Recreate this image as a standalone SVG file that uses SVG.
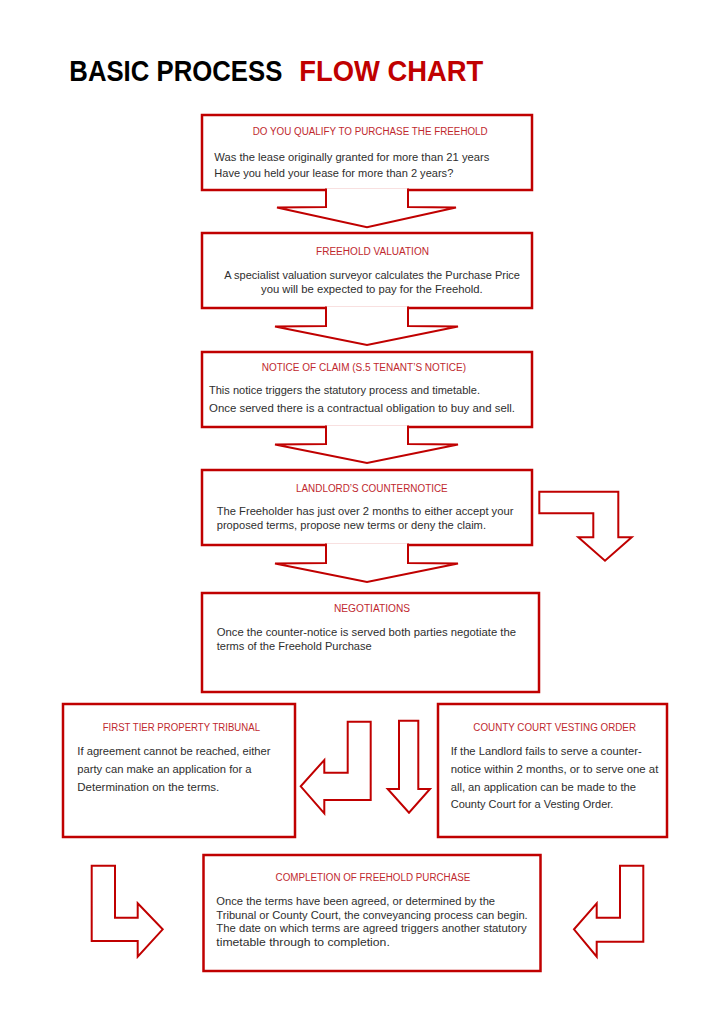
<svg xmlns="http://www.w3.org/2000/svg" width="724" height="1024" viewBox="0 0 724 1024">
<style>
.box{fill:#fff;stroke:#c00000;stroke-width:2.5}
.arr{fill:#fff;stroke:#c00000;stroke-width:2;stroke-linejoin:miter}
.hd{font-family:"Liberation Sans",Arial,sans-serif;font-size:10px;fill:#c0282e}
.tx{font-family:"Liberation Sans",Arial,sans-serif;font-size:11.2px;fill:#2e2e2e}
.big{font-family:"Liberation Sans",Arial,sans-serif;font-size:29px;font-weight:bold}
</style>
<rect width="724" height="1024" fill="#fff"/>
<g id="title">
<text class="big" x="69.3" y="80.7" fill="#000" textLength="213" lengthAdjust="spacingAndGlyphs">BASIC PROCESS</text>
<text class="big" x="299.3" y="80.7" fill="#c00000" textLength="184" lengthAdjust="spacingAndGlyphs">FLOW CHART</text>
</g>
<g id="qualify">
<rect class="box" x="202" y="115" width="330" height="75"/>
<text class="hd" x="252.7" y="135" textLength="235" lengthAdjust="spacingAndGlyphs">DO YOU QUALIFY TO PURCHASE THE FREEHOLD</text>
<text class="tx" x="214.3" y="161" textLength="275" lengthAdjust="spacingAndGlyphs">Was the lease originally granted for more than 21 years</text>
<text class="tx" x="214.3" y="177.3" textLength="239" lengthAdjust="spacingAndGlyphs">Have you held your lease for more than 2 years?</text>
</g>
<g id="valuation">
<rect class="box" x="202" y="233" width="330" height="75"/>
<text class="hd" x="316" y="255" textLength="113" lengthAdjust="spacingAndGlyphs">FREEHOLD VALUATION</text>
<text class="tx" x="224.3" y="279" textLength="295.7" lengthAdjust="spacingAndGlyphs">A specialist valuation surveyor calculates the Purchase Price</text>
<text class="tx" x="261" y="293.3" textLength="221.7" lengthAdjust="spacingAndGlyphs">you will be expected to pay for the Freehold.</text>
</g>
<g id="claim">
<rect class="box" x="202" y="352" width="330" height="75"/>
<text class="hd" x="261.7" y="370.7" textLength="204.3" lengthAdjust="spacingAndGlyphs">NOTICE OF CLAIM (S.5 TENANT’S NOTICE)</text>
<text class="tx" x="209" y="394.3" textLength="271" lengthAdjust="spacingAndGlyphs">This notice triggers the statutory process and timetable.</text>
<text class="tx" x="209" y="411.7" textLength="306" lengthAdjust="spacingAndGlyphs">Once served there is a contractual obligation to buy and sell.</text>
</g>
<g id="counternotice">
<rect class="box" x="202" y="470" width="330" height="75"/>
<text class="hd" x="296" y="491.7" textLength="151.7" lengthAdjust="spacingAndGlyphs">LANDLORD’S COUNTERNOTICE</text>
<text class="tx" x="216.7" y="515" textLength="296.7" lengthAdjust="spacingAndGlyphs">The Freeholder has just over 2 months to either accept your</text>
<text class="tx" x="216.7" y="529" textLength="269.3" lengthAdjust="spacingAndGlyphs">proposed terms, propose new terms or deny the claim.</text>
</g>
<g id="negotiations">
<rect class="box" x="202" y="593" width="337" height="99"/>
<text class="hd" x="334" y="612.3" textLength="76" lengthAdjust="spacingAndGlyphs">NEGOTIATIONS</text>
<text class="tx" x="216.7" y="635.7" textLength="299.3" lengthAdjust="spacingAndGlyphs">Once the counter-notice is served both parties negotiate the</text>
<text class="tx" x="216.7" y="650" textLength="155" lengthAdjust="spacingAndGlyphs">terms of the Freehold Purchase</text>
</g>
<g id="tribunal">
<rect class="box" x="63" y="704" width="232" height="133"/>
<text class="hd" x="102.7" y="730.7" textLength="157.3" lengthAdjust="spacingAndGlyphs">FIRST TIER PROPERTY TRIBUNAL</text>
<text class="tx" x="77.3" y="755.3" textLength="193.3" lengthAdjust="spacingAndGlyphs">If agreement cannot be reached, either</text>
<text class="tx" x="77.3" y="773.3" textLength="174.3" lengthAdjust="spacingAndGlyphs">party can make an application for a</text>
<text class="tx" x="77.3" y="790.7" textLength="142" lengthAdjust="spacingAndGlyphs">Determination on the terms.</text>
</g>
<g id="vesting">
<rect class="box" x="438" y="704" width="229" height="133"/>
<text class="hd" x="473.3" y="730.7" textLength="162.7" lengthAdjust="spacingAndGlyphs">COUNTY COURT VESTING ORDER</text>
<text class="tx" x="450.7" y="755.3" textLength="191" lengthAdjust="spacingAndGlyphs">If the Landlord fails to serve a counter-</text>
<text class="tx" x="450.7" y="773.3" textLength="207.7" lengthAdjust="spacingAndGlyphs">notice within 2 months, or to serve one at</text>
<text class="tx" x="450.7" y="790.7" textLength="185.3" lengthAdjust="spacingAndGlyphs">all, an application can be made to the</text>
<text class="tx" x="450.7" y="808.3" textLength="162.7" lengthAdjust="spacingAndGlyphs">County Court for a Vesting Order.</text>
</g>
<g id="completion">
<rect class="box" x="203.5" y="855" width="337" height="116"/>
<text class="hd" x="275.6" y="881" textLength="194.7" lengthAdjust="spacingAndGlyphs">COMPLETION OF FREEHOLD PURCHASE</text>
<text class="tx" x="216.3" y="905" textLength="278.8" lengthAdjust="spacingAndGlyphs">Once the terms have been agreed, or determined by the</text>
<text class="tx" x="216.3" y="918.7" textLength="311.4" lengthAdjust="spacingAndGlyphs">Tribunal or County Court, the conveyancing process can begin.</text>
<text class="tx" x="216.3" y="931.7" textLength="310.3" lengthAdjust="spacingAndGlyphs">The date on which terms are agreed triggers another statutory</text>
<text class="tx" x="216.3" y="945.7" textLength="173.5" lengthAdjust="spacingAndGlyphs">timetable through to completion.</text>
</g>
<g id="connectors">
<polyline class="arr" points="326,188.6 326,207 277,207.5 367,227.3 456,207.5 408,207 408,188.6"/>
<polyline class="arr" points="326,306.6 326,326 275,326.5 367,345 458,326.5 408,326 408,306.6"/>
<polyline class="arr" points="326,425.6 326,444 275,444.5 367,463 458,444.5 408,444 408,425.6"/>
<polyline class="arr" points="326,543.6 326,563 275,563.5 367,582 458,563.5 408,563 408,543.6"/>
<polygon class="arr" points="539.3,491.7 618.3,491.7 618.3,537.3 631.7,537.3 605,560.7 578.3,537.3 593.3,537.3 593.3,513.3 539.3,513.3"/>
<polygon class="arr" points="347.7,721.7 370.7,721.7 370.7,800 324.3,800 324.3,813.3 300.7,786.3 324.3,760 324.3,772.7 347.7,772.7"/>
<polygon class="arr" points="399,720.7 418.3,720.7 418.3,789 430,789 409,812.7 387.7,789 399,789"/>
<polygon class="arr" points="91.7,865.7 115,865.7 115,917.7 137.7,917.7 137.7,903.3 162.7,929.3 137.7,956.7 137.7,941 91.7,941"/>
<polygon class="arr" points="643.3,865.7 620,865.7 620,917.7 596.7,917.7 596.7,903.3 574,929.3 596.7,956.7 596.7,941.7 643.3,941.7"/>
</g>
</svg>
